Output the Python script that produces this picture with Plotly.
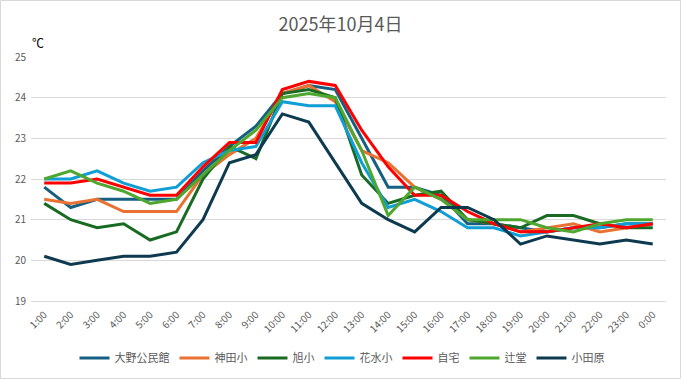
import plotly.graph_objects as go

hours = ["1:00", "2:00", "3:00", "4:00", "5:00", "6:00", "7:00", "8:00", "9:00", "10:00",
         "11:00", "12:00", "13:00", "14:00", "15:00", "16:00", "17:00", "18:00", "19:00",
         "20:00", "21:00", "22:00", "23:00", "0:00"]

oono = [21.8, 21.3, 21.5, 21.5, 21.5, 21.5, 22.2, 22.8, 23.3, 24.1, 24.3, 24.2,
        23.0, 21.8, 21.8, 21.6, 20.9, 20.9, 20.8, 20.7, 20.8, 20.8, 20.9, 20.9]
kanda = [21.5, 21.4, 21.5, 21.2, 21.2, 21.2, 22.1, 22.6, 23.0, 24.1, 24.3, 23.9,
         22.7, 22.4, 21.8, 21.5, 21.0, 20.9, 20.7, 20.8, 20.9, 20.7, 20.8, 20.9]
asahi = [21.4, 21.0, 20.8, 20.9, 20.5, 20.7, 22.0, 22.8, 22.5, 24.1, 24.2, 24.0,
         22.1, 21.4, 21.6, 21.7, 21.0, 20.9, 20.8, 21.1, 21.1, 20.9, 20.8, 20.8]
hanamizu = [22.0, 22.0, 22.2, 21.9, 21.7, 21.8, 22.4, 22.7, 22.8, 23.9, 23.8, 23.8,
            22.4, 21.3, 21.5, 21.2, 20.8, 20.8, 20.6, 20.7, 20.8, 20.8, 20.9, 20.9]
jitaku = [21.9, 21.9, 22.0, 21.8, 21.6, 21.6, 22.3, 22.9, 22.9, 24.2, 24.4, 24.3,
          23.2, 22.3, 21.6, 21.6, 21.2, 20.9, 20.7, 20.7, 20.8, 20.9, 20.8, 20.9]
tsujido = [22.0, 22.2, 21.9, 21.7, 21.4, 21.5, 22.1, 22.7, 23.2, 24.0, 24.1, 24.0,
           22.7, 21.1, 21.8, 21.5, 21.0, 21.0, 21.0, 20.8, 20.7, 20.9, 21.0, 21.0]
odawara = [20.1, 19.9, 20.0, 20.1, 20.1, 20.2, 21.0, 22.4, 22.6, 23.6, 23.4, 22.4,
           21.4, 21.0, 20.7, 21.3, 21.3, 21.0, 20.4, 20.6, 20.5, 20.4, 20.5, 20.4]

series_names = ["大野公民館", "神田小", "旭小", "花水小", "自宅", "辻堂", "小田原"]
series_values = [oono, kanda, asahi, hanamizu, jitaku, tsujido, odawara]
series_colors = ["#156082", "#E97132", "#196B24", "#0F9ED5", "#FF0000", "#4EA72E", "#0E3A50"]

FONT = "Noto Sans CJK JP, sans-serif"

fig = go.Figure()
for name, vals, col in zip(series_names, series_values, series_colors):
    fig.add_trace(go.Scatter(x=hours, y=vals, name=name, mode="lines",
                             line=dict(color=col, width=3)))

W, H = 681, 379
ml, mr, mt, mb = 31, 15, 57, 78
pw, ph = W - ml - mr, H - mt - mb

fig.update_layout(
    width=W, height=H,
    margin=dict(l=ml, r=mr, t=mt, b=mb, autoexpand=False),
    paper_bgcolor="white", plot_bgcolor="white",
    font=dict(family=FONT, color="#595959", size=10),
    title=dict(text="2025年10月4日", x=0.5, xanchor="center", y=1 - 25 / H, yanchor="middle",
               font=dict(size=18, color="#595959", family=FONT)),
    xaxis=dict(type="category", range=[-0.5, 23.5], tickangle=-45, showgrid=False,
               showline=True, linecolor="#D9D9D9", linewidth=1, ticks="", automargin=False,
               ticklabelstandoff=3,
               tickfont=dict(size=10, color="#595959"), fixedrange=True),
    yaxis=dict(range=[19, 25], dtick=1, showgrid=True, gridcolor="#D9D9D9", gridwidth=1,
               zeroline=False, showline=False, ticks="", automargin=False, ticklabelstandoff=4,
               tickfont=dict(size=10, color="#595959"), fixedrange=True),
    legend=dict(orientation="h", x=(342 - ml) / pw, xanchor="center",
                yref="container", y=1 - 358 / H, yanchor="middle",
                font=dict(size=11, color="#595959", family=FONT), itemwidth=30,
                bgcolor="rgba(0,0,0,0)"),
    showlegend=True,
)

fig.add_annotation(text="℃", xref="paper", yref="paper",
                   x=(38 - ml) / pw, y=1 + (57 - 42) / ph, xanchor="center", yanchor="middle",
                   showarrow=False, font=dict(size=12, color="#000000", family=FONT))

# chart area border
fig.add_shape(type="rect", xref="paper", yref="paper",
              x0=(0.5 - ml) / pw, x1=(W - 0.5 - ml) / pw,
              y0=1 + (mt - 0.5) / ph, y1=-(mb - 0.5) / ph,
              line=dict(color="#D9D9D9", width=1), layer="below")

fig.write_html("out.html", config={"displayModeBar": False},
               post_script="document.body.style.margin='0';document.body.style.overflow='hidden';")
